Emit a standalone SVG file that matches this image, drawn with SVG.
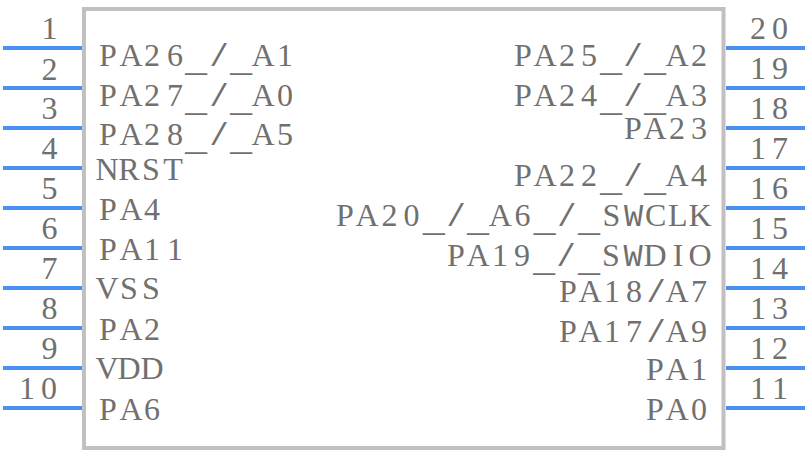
<svg xmlns="http://www.w3.org/2000/svg" width="808" height="452" viewBox="0 0 808 452">
<style>
.p{stroke:#4a90f0;stroke-width:4;fill:none}
.b{fill:#fff;stroke:#c0c0c0;stroke-width:4}
text{font-family:"Liberation Serif","DejaVu Serif",serif;fill:#707070;font-size:32px;text-anchor:middle}
.u{font-family:"Liberation Mono",monospace;font-size:37px}
.s{font-family:"Liberation Mono",monospace;font-size:32px}
</style>
<rect fill="#fff" width="808" height="452"/>
<g id="body"><rect class="b" x="84" y="9" width="639.5" height="439"/></g>
<g id="connectors">
<path class="p" d="M3 48H82M3 88H82M3 128H82M3 168H82M3 208H82M3 248H82M3 288H82M3 328H82M3 368H82M3 408H82M726 48H805M726 88H805M726 128H805M726 168H805M726 208H805M726 248H805M726 288H805M726 328H805M726 368H805M726 408H805"/>
</g>
<g id="numbers">
<text x="49.5" y="39">1</text><text x="49.5" y="80">2</text><text x="49.5" y="119">3</text><text x="49.5" y="159">4</text><text x="49.5" y="199">5</text><text x="49.5" y="239">6</text><text x="49.5" y="279">7</text><text x="49.5" y="319">8</text><text x="49.5" y="359">9</text><text x="27 49" y="399">10</text>
<text x="758 780" y="39">20</text><text x="758 780" y="79">19</text><text x="758 780" y="119">18</text><text x="758 780" y="159">17</text><text x="758 780" y="199">16</text><text x="758 780" y="239">15</text><text x="758 780" y="279">14</text><text x="758 780" y="319">13</text><text x="758 780" y="359">12</text><text x="758 780" y="399">11</text>
</g>
<g id="labels">
<text x="108 131 152 175 196 219 241 263 285" y="66" dy="0 0 0 0 5 -5 5 -5">PA26<tspan class="u">_</tspan><tspan class="s">/</tspan><tspan class="u">_</tspan>A1</text>
<text x="108 131 152 175 196 219 241 263 285" y="106" dy="0 0 0 0 5 -5 5 -5">PA27<tspan class="u">_</tspan><tspan class="s">/</tspan><tspan class="u">_</tspan>A0</text>
<text x="108 131 152 175 196 219 241 263 285" y="145" dy="0 0 0 0 5 -5 5 -5">PA28<tspan class="u">_</tspan><tspan class="s">/</tspan><tspan class="u">_</tspan>A5</text>
<text x="107 129 151 173" y="180">NRST</text>
<text x="108 131 152" y="220">PA4</text>
<text x="108 131 152 175" y="260">PA11</text>
<text x="107 129 151" y="299">VSS</text>
<text x="108 131 152" y="340">PA2</text>
<text x="107 129 152" y="379">VDD</text>
<text x="108 131 152" y="420">PA6</text>
<text x="523 545 567 589 611 633 655 677 699" y="66" dy="0 0 0 0 5 -5 5 -5">PA25<tspan class="u">_</tspan><tspan class="s">/</tspan><tspan class="u">_</tspan>A2</text>
<text x="523 545 567 589 611 633 655 677 699" y="106" dy="0 0 0 0 5 -5 5 -5">PA24<tspan class="u">_</tspan><tspan class="s">/</tspan><tspan class="u">_</tspan>A3</text>
<text x="633 655 677 699" y="139">PA23</text>
<text x="523 545 567 589 611 633 655 677 699" y="186" dy="0 0 0 0 5 -5 5 -5">PA22<tspan class="u">_</tspan><tspan class="s">/</tspan><tspan class="u">_</tspan>A4</text>
<text x="345 367 389.4 411.6 433.8 456 478 500.3 522.5 544.7 566.9 589 611.3 633.5 655.7 677.8 700" y="226" dy="0 0 0 0 5 -5 5 -5 0 5 -5 5 -5">PA20<tspan class="u">_</tspan><tspan class="s">/</tspan><tspan class="u">_</tspan>A6<tspan class="u">_</tspan><tspan class="s">/</tspan><tspan class="u">_</tspan>S<tspan class="s">W</tspan>CLK</text>
<text x="456 478 500 522 544 566 589 611 633 655 678 700" y="266" dy="0 0 0 0 5 -5 5 -5">PA19<tspan class="u">_</tspan><tspan class="s">/</tspan><tspan class="u">_</tspan>S<tspan class="s">W</tspan>DIO</text>
<text x="568 590 612 634 656 677 699" y="302">PA18<tspan class="s">/</tspan>A7</text>
<text x="568 590 612 634 656 677 699" y="342">PA17<tspan class="s">/</tspan>A9</text>
<text x="655 677 699" y="380">PA1</text>
<text x="655 677 699" y="420">PA0</text>
</g>
</svg>
